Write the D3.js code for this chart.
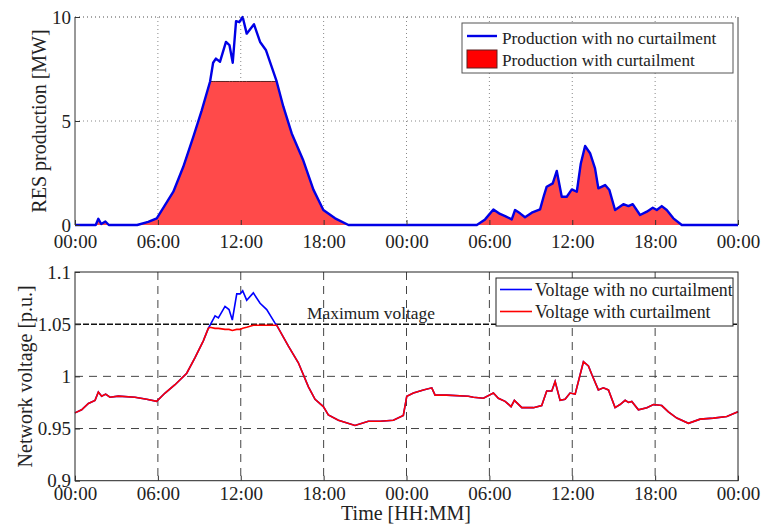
<!DOCTYPE html>
<html>
<head>
<meta charset="utf-8">
<title>RES production and network voltage</title>
<script src="https://d3js.org/d3.v7.min.js"></script>
<style>
  body { margin: 0; background: #fff; }
  text { font-family: "Liberation Serif", "Times New Roman", serif; fill: #222; }
  .tick text { font-size: 19px; }
  .axis path { display: none; }
  .axis line { stroke: #333; }
</style>
</head>
<body>
<div id="chart"></div>
<script>
// --- data (hours from start, 48 h span) ---
var xTickHours = [0, 6, 12, 18, 24, 30, 36, 42, 48];
var xTickLabels = ["00:00", "06:00", "12:00", "18:00", "00:00", "06:00", "12:00", "18:00", "00:00"];

var prodHours = [0, 1.5, 1.69, 1.9, 2.2, 2.45, 4.5, 5.3, 5.92, 7.12, 7.84, 8.57, 9.17, 9.78, 10.0, 10.2, 10.5, 10.93, 11.18, 11.42, 11.66, 11.9, 12.14, 12.43, 12.96, 13.4, 13.83, 14.24, 14.6, 15.08, 15.69, 16.53, 17.26, 17.98, 18.83, 19.8,
  29.09, 29.69, 30.29, 30.77, 31.14, 31.62, 31.86, 32.22, 32.58, 33.07, 33.67, 33.96, 34.15, 34.59, 34.88, 35.24, 35.6, 35.97, 36.33, 36.62, 36.93, 37.29, 37.65, 37.89, 38.38, 38.69, 39.1, 39.7, 40.07, 40.38, 40.91, 41.4, 41.83, 42.12, 42.48, 42.84, 43.32, 43.93, 48];
var prodNoCurtail = [0, 0, 0.3, 0.05, 0.17, 0, 0, 0.15, 0.32, 1.6, 2.8, 4.25, 5.5, 6.9, 7.8, 8.0, 7.85, 8.8, 8.65, 7.8, 9.8, 9.75, 10.0, 9.2, 9.65, 8.8, 8.4, 7.6, 6.9, 5.7, 4.4, 3.1, 1.7, 0.72, 0.32, 0,
  0, 0.27, 0.75, 0.53, 0.43, 0.27, 0.72, 0.56, 0.37, 0.59, 0.75, 1.44, 1.84, 2.0, 2.6, 1.36, 1.36, 1.71, 1.6, 2.96, 3.8, 3.45, 2.72, 1.76, 1.92, 1.68, 0.72, 1.0, 0.91, 1.0, 0.48, 0.64, 0.83, 0.72, 0.91, 0.72, 0.32, 0, 0];
var prodCurtail = [0, 0, 0.3, 0.05, 0.17, 0, 0, 0.15, 0.32, 1.6, 2.8, 4.25, 5.5, 6.9, 6.9, 6.9, 6.9, 6.9, 6.9, 6.9, 6.9, 6.9, 6.9, 6.9, 6.9, 6.9, 6.9, 6.9, 6.9, 5.7, 4.4, 3.1, 1.7, 0.72, 0.32, 0,
  0, 0.27, 0.75, 0.53, 0.43, 0.27, 0.72, 0.56, 0.37, 0.59, 0.75, 1.44, 1.84, 2.0, 2.6, 1.36, 1.36, 1.71, 1.6, 2.96, 3.8, 3.45, 2.72, 1.76, 1.92, 1.68, 0.72, 1.0, 0.91, 1.0, 0.48, 0.64, 0.83, 0.72, 0.91, 0.72, 0.32, 0, 0];

var voltHours = [0, 0.48, 0.97, 1.45, 1.69, 1.93, 2.22, 2.53, 3.14, 4.34, 5.19, 5.91, 6.52, 7.24, 8.09, 8.69, 9.29, 9.65, 9.78, 10.14, 10.38, 10.86, 11.15, 11.39, 11.71, 11.95, 12.14, 12.43, 12.91, 13.4, 13.88, 14.48, 14.6, 15.45, 16.17, 16.9, 17.38, 17.98, 18.34, 19.07, 20.27, 21.24, 22.09, 23.05, 23.77,
  24.02, 24.5, 25.22, 25.83, 26.07, 26.91, 28.48, 28.84, 29.57, 30.29, 30.65, 31.14, 31.57, 31.81, 32.35, 33.19, 33.79, 34.15, 34.52, 34.76, 35.12, 35.48, 35.84, 36.21, 36.81, 37.17, 37.41, 37.89, 38.25, 38.62, 39.1, 39.46, 39.83, 40.07, 40.31, 40.79, 41.4, 41.88, 42.48, 42.96, 43.57, 44.41, 45.26, 46.22, 47.19, 48];
var voltNoCurtail = [0.965, 0.968, 0.974, 0.977, 0.985, 0.981, 0.983, 0.980, 0.981, 0.980, 0.978, 0.976, 0.984, 0.992, 1.003, 1.018, 1.034, 1.046, 1.049, 1.058, 1.056, 1.067, 1.064, 1.054, 1.079, 1.079, 1.082, 1.073, 1.080, 1.070, 1.064, 1.051, 1.049, 1.029, 1.013, 0.990, 0.978, 0.971, 0.963, 0.958, 0.953, 0.957, 0.957, 0.958, 0.9625,
  0.981, 0.984, 0.987, 0.989, 0.982, 0.982, 0.981, 0.980, 0.979, 0.984, 0.979, 0.976, 0.971, 0.977, 0.970, 0.970, 0.972, 0.986, 0.986, 0.995, 0.977, 0.978, 0.984, 0.983, 1.014, 1.010, 1.002, 0.987, 0.989, 0.987, 0.970, 0.973, 0.977, 0.975, 0.976, 0.968, 0.970, 0.973, 0.972, 0.966, 0.960, 0.955, 0.959, 0.960, 0.9615, 0.966];
var voltCurtail = [0.965, 0.968, 0.974, 0.977, 0.985, 0.981, 0.983, 0.980, 0.981, 0.980, 0.978, 0.976, 0.984, 0.992, 1.003, 1.018, 1.034, 1.046, 1.047, 1.046, 1.046, 1.045, 1.045, 1.044, 1.045, 1.045, 1.046, 1.047, 1.049, 1.049, 1.049, 1.049, 1.049, 1.029, 1.013, 0.990, 0.978, 0.971, 0.963, 0.958, 0.953, 0.957, 0.957, 0.958, 0.9625,
  0.981, 0.984, 0.987, 0.989, 0.982, 0.982, 0.981, 0.980, 0.979, 0.984, 0.979, 0.976, 0.971, 0.977, 0.970, 0.970, 0.972, 0.986, 0.986, 0.995, 0.977, 0.978, 0.984, 0.983, 1.014, 1.010, 1.002, 0.987, 0.989, 0.987, 0.970, 0.973, 0.977, 0.975, 0.976, 0.968, 0.970, 0.973, 0.972, 0.966, 0.960, 0.955, 0.959, 0.960, 0.9615, 0.966];

var prodTicks = [0, 5, 10];
var voltTicks = [0.9, 0.95, 1, 1.05, 1.1];
var voltTickLabels = ["0.9", "0.95", "1", "1.05", "1.1"];
var maxVoltage = 1.05;

// --- layout ---
var W = 764, H = 525;
var left = 75, right = 738;
var top1 = 17, bot1 = 225;
var top2 = 272, bot2 = 480.7;

var svg = d3.select("#chart").append("svg")
  .attr("width", W).attr("height", H);

var x = d3.scaleLinear().domain([0, 48]).range([left, right]);
var y1 = d3.scaleLinear().domain([0, 10]).range([bot1, top1]);
var y2 = d3.scaleLinear().domain([0.9, 1.1]).range([bot2, top2]);

function zip(hs, vs) { return hs.map(function(h, i) { return [h, vs[i]]; }); }

// ===== top panel =====
var g1 = svg.append("g");
// grid (dotted)
g1.selectAll(".vg").data(xTickHours.slice(1, -1)).enter().append("line")
  .attr("x1", d => x(d)).attr("x2", d => x(d)).attr("y1", top1).attr("y2", bot1)
  .attr("stroke", "#888").attr("stroke-dasharray", "1,3");
g1.selectAll(".hg").data(prodTicks.slice(1)).enter().append("line")
  .attr("x1", left).attr("x2", right).attr("y1", d => y1(d)).attr("y2", d => y1(d))
  .attr("stroke", "#888").attr("stroke-dasharray", "1,3");

var curtData = zip(prodHours, prodCurtail);
var area = d3.area().x(d => x(d[0])).y0(y1(0)).y1(d => y1(d[1]));
g1.append("path").datum(curtData)
  .attr("d", area).attr("fill", "#ff4a4a");
g1.append("path").datum(curtData)
  .attr("d", d3.line().x(d => x(d[0])).y(d => y1(d[1])))
  .attr("fill", "none").attr("stroke", "#5a2020").attr("stroke-width", 1);
g1.append("path").datum(zip(prodHours, prodNoCurtail))
  .attr("d", d3.line().x(d => x(d[0])).y(d => y1(d[1])))
  .attr("fill", "none").attr("stroke", "#0000e6").attr("stroke-width", 2.4)
  .attr("stroke-linejoin", "round");

// frame
g1.append("line").attr("x1", left).attr("x2", right).attr("y1", top1).attr("y2", top1)
  .attr("stroke", "#888").attr("stroke-dasharray", "1,3");
g1.append("line").attr("x1", left).attr("x2", left).attr("y1", top1).attr("y2", bot1).attr("stroke", "#333");
g1.append("line").attr("x1", right).attr("x2", right).attr("y1", top1).attr("y2", bot1).attr("stroke", "#444");

var ax1 = g1.append("g").attr("class", "axis").attr("transform", "translate(0," + bot1 + ")")
  .call(d3.axisBottom(x).tickValues(xTickHours).tickFormat((d, i) => xTickLabels[i]).tickSizeInner(-5).tickSizeOuter(0));
ax1.selectAll("text").attr("y", 23).attr("dy", 0);
var ay1 = g1.append("g").attr("class", "axis").attr("transform", "translate(" + left + ",0)")
  .call(d3.axisLeft(y1).tickValues(prodTicks).tickFormat(d3.format("d")).tickSizeInner(-5).tickSizeOuter(0));
ay1.selectAll("text").attr("x", -4);

svg.append("text").attr("transform", "translate(46," + ((top1 + bot1) / 2) + ") rotate(-90)")
  .attr("text-anchor", "middle").style("font-size", "20px").text("RES production [MW]");

// legend top
var lg1 = svg.append("g");
lg1.append("rect").attr("x", 462).attr("y", 23).attr("width", 271).attr("height", 50)
  .attr("fill", "#fff").attr("stroke", "#555");
lg1.append("line").attr("x1", 467).attr("x2", 497).attr("y1", 36).attr("y2", 36)
  .attr("stroke", "#0000e6").attr("stroke-width", 2.4);
lg1.append("rect").attr("x", 467).attr("y", 50).attr("width", 30).attr("height", 18)
  .attr("fill", "#ff0000").attr("stroke", "#5a2020");
lg1.append("text").attr("x", 502).attr("y", 44).style("font-size", "17.2px").text("Production with no curtailment");
lg1.append("text").attr("x", 502).attr("y", 66).style("font-size", "17.2px").text("Production with curtailment");

// ===== bottom panel =====
var g2 = svg.append("g");
g2.selectAll(".vg").data(xTickHours.slice(1, -1)).enter().append("line")
  .attr("x1", d => x(d)).attr("x2", d => x(d)).attr("y1", top2).attr("y2", bot2)
  .attr("stroke", "#444").attr("stroke-dasharray", "8,6");
g2.selectAll(".hg").data(voltTicks.slice(1, -1).filter(d => d !== maxVoltage)).enter().append("line")
  .attr("x1", left).attr("x2", right).attr("y1", d => y2(d)).attr("y2", d => y2(d))
  .attr("stroke", "#444").attr("stroke-dasharray", "8,6");
g2.append("line").attr("x1", left).attr("x2", right).attr("y1", y2(maxVoltage)).attr("y2", y2(maxVoltage))
  .attr("stroke", "#111").attr("stroke-width", 1.4).attr("stroke-dasharray", "6,2");
svg.append("text").attr("x", 371).attr("y", 319).attr("text-anchor", "middle")
  .style("font-size", "17.4px").text("Maximum voltage");

var vline = d3.line().x(d => x(d[0])).y(d => y2(d[1]));
g2.append("path").datum(zip(voltHours, voltNoCurtail)).attr("d", vline)
  .attr("fill", "none").attr("stroke", "#0000ff").attr("stroke-width", 1.6);
g2.append("path").datum(zip(voltHours, voltCurtail)).attr("d", vline)
  .attr("fill", "none").attr("stroke", "#ff0000").attr("stroke-width", 1.6);

g2.append("rect").attr("x", left).attr("y", top2).attr("width", right - left).attr("height", bot2 - top2)
  .attr("fill", "none").attr("stroke", "#222");

var ax2 = g2.append("g").attr("class", "axis").attr("transform", "translate(0," + bot2 + ")")
  .call(d3.axisBottom(x).tickValues(xTickHours).tickFormat((d, i) => xTickLabels[i]).tickSizeInner(-5).tickSizeOuter(0));
ax2.selectAll("text").attr("y", 19).attr("dy", 0);
var ay2 = g2.append("g").attr("class", "axis").attr("transform", "translate(" + left + ",0)")
  .call(d3.axisLeft(y2).tickValues(voltTicks).tickFormat((d, i) => voltTickLabels[i]).tickSizeInner(-5).tickSizeOuter(0));
ay2.selectAll("text").attr("x", -4);

svg.append("text").attr("transform", "translate(32," + ((top2 + bot2) / 2) + ") rotate(-90)")
  .attr("text-anchor", "middle").style("font-size", "20px").text("Network voltage [p.u.]");
svg.append("text").attr("x", 406).attr("y", 520).attr("text-anchor", "middle")
  .style("font-size", "20px").text("Time [HH:MM]");

// legend bottom
var lg2 = svg.append("g");
lg2.append("rect").attr("x", 496).attr("y", 278).attr("width", 237).attr("height", 48)
  .attr("fill", "#fff").attr("stroke", "#222");
lg2.append("line").attr("x1", 500).attr("x2", 532).attr("y1", 289.5).attr("y2", 289.5)
  .attr("stroke", "#0000ff").attr("stroke-width", 1.6);
lg2.append("line").attr("x1", 500).attr("x2", 532).attr("y1", 311.5).attr("y2", 311.5)
  .attr("stroke", "#ff0000").attr("stroke-width", 1.6);
lg2.append("text").attr("x", 535).attr("y", 296).style("font-size", "17.8px").text("Voltage with no curtailment");
lg2.append("text").attr("x", 535).attr("y", 318).style("font-size", "17.8px").text("Voltage with curtailment");
</script>
</body>
</html>
